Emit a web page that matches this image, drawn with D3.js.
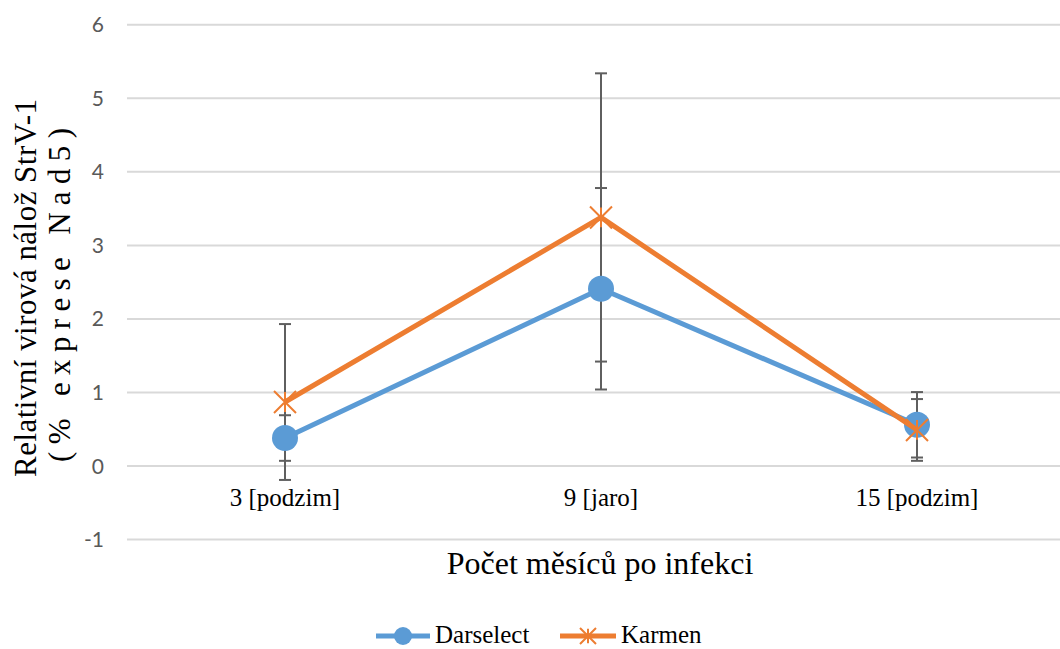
<!DOCTYPE html>
<html>
<head>
  <meta charset="utf-8">
  <title>StrV-1</title>
  <style>
    body { margin: 0; background: #fff; }
    svg { display: block; }
    .serif { font-family: "Liberation Serif", serif; fill: #000; }
    .tick { font-family: Lato, sans-serif; fill: #595959; }
  </style>
  <script src="https://d3js.org/d3.v7.min.js"></script>
</head>
<body>
  <svg id="chart" width="1060" height="649"></svg>
  <script>
    var categories = ["3 [podzim]", "9 [jaro]", "15 [podzim]"];
    var darselect = [0.38, 2.41, 0.56];
    var darselectErr = [0.31, 1.37, 0.445];
    var karmen = [0.87, 3.38, 0.49];
    var karmenErr = [1.06, 1.96, 0.42];
    var yTicks = [-1, 0, 1, 2, 3, 4, 5, 6];

    var width = 1060, height = 649;
    var svg = d3.select("#chart");

    var x = d3.scaleBand()
        .domain(categories)
        .range([127, 1075]);

    var y = d3.scaleLinear()
        .domain([-1, 6])
        .range([539.5, 24.8]);

    var cx = d => x(d) + x.bandwidth() / 2;

    // gridlines
    svg.append("g")
        .selectAll("line")
        .data(yTicks)
        .join("line")
        .attr("x1", 127)
        .attr("x2", width)
        .attr("y1", d => y(d))
        .attr("y2", d => y(d))
        .attr("stroke", "#d9d9d9")
        .attr("stroke-width", 2);

    // tick labels
    svg.append("g")
        .selectAll("text")
        .data(yTicks)
        .join("text")
        .attr("class", "tick")
        .attr("x", 104)
        .attr("y", d => y(d))
        .attr("dy", "0.36em")
        .attr("text-anchor", "end")
        .attr("font-size", 21)
        .text(d => d);

    // category labels
    svg.append("g")
        .selectAll("text")
        .data(categories)
        .join("text")
        .attr("class", "serif")
        .attr("x", d => cx(d))
        .attr("y", 506)
        .attr("text-anchor", "middle")
        .attr("font-size", 25)
        .text(d => d);

    // axis titles
    svg.append("text")
        .attr("class", "serif")
        .attr("x", 600)
        .attr("y", 574)
        .attr("text-anchor", "middle")
        .attr("font-size", 32)
        .text("Počet měsíců po infekci");

    var yTitle = svg.append("text")
        .attr("class", "serif")
        .attr("transform", "rotate(-90)")
        .attr("font-size", 31);
    yTitle.append("tspan")
        .attr("x", -477).attr("y", 36)
        .attr("textLength", 378).attr("lengthAdjust", "spacing")
        .text("Relativní virová nálož StrV-1");
    yTitle.append("tspan")
        .attr("x", -462).attr("y", 70)
        .attr("textLength", 334).attr("lengthAdjust", "spacing")
        .text("(% exprese Nad5)");

    // error bars
    function errorBars(values, errs) {
      var g = svg.append("g")
          .attr("stroke", "#5f5f5f")
          .attr("stroke-width", 2);
      categories.forEach(function(c, i) {
        var px = cx(c);
        var lo = y(values[i] - errs[i]), hi = y(values[i] + errs[i]);
        g.append("line").attr("x1", px).attr("x2", px).attr("y1", lo).attr("y2", hi);
        g.append("line").attr("x1", px - 6).attr("x2", px + 6).attr("y1", lo).attr("y2", lo);
        g.append("line").attr("x1", px - 6).attr("x2", px + 6).attr("y1", hi).attr("y2", hi);
      });
    }
    errorBars(darselect, darselectErr);
    errorBars(karmen, karmenErr);

    var line = d3.line()
        .x((d, i) => cx(categories[i]))
        .y(d => y(d));

    function starMarker(g, px, py, s) {
      g.append("path")
          .attr("d", "M" + (px - s) + "," + (py - s) + "L" + (px + s) + "," + (py + s) +
                     "M" + (px - s) + "," + (py + s) + "L" + (px + s) + "," + (py - s) +
                     "M" + px + "," + (py - s * 0.9) + "L" + px + "," + (py + s * 0.9))
          .attr("stroke", "#ed7d31")
          .attr("stroke-width", 2)
          .attr("fill", "none");
    }

    // Darselect
    svg.append("path")
        .datum(darselect)
        .attr("d", line)
        .attr("fill", "none")
        .attr("stroke", "#5b9bd5")
        .attr("stroke-width", 5)
        .attr("stroke-linejoin", "round");
    svg.append("g")
        .selectAll("circle")
        .data(darselect)
        .join("circle")
        .attr("cx", (d, i) => cx(categories[i]))
        .attr("cy", d => y(d))
        .attr("r", 13)
        .attr("fill", "#5b9bd5");

    // Karmen
    svg.append("path")
        .datum(karmen)
        .attr("d", line)
        .attr("fill", "none")
        .attr("stroke", "#ed7d31")
        .attr("stroke-width", 5)
        .attr("stroke-linejoin", "round");
    var km = svg.append("g");
    karmen.forEach(function(d, i) {
      starMarker(km, cx(categories[i]), y(d), 11);
    });

    // legend
    var legend = svg.append("g");
    legend.append("line")
        .attr("x1", 376).attr("x2", 430).attr("y1", 636).attr("y2", 636)
        .attr("stroke", "#5b9bd5").attr("stroke-width", 5);
    legend.append("circle")
        .attr("cx", 403).attr("cy", 636).attr("r", 9)
        .attr("fill", "#5b9bd5");
    legend.append("text")
        .attr("class", "serif")
        .attr("x", 435).attr("y", 643)
        .attr("font-size", 25)
        .text("Darselect");
    legend.append("line")
        .attr("x1", 560).attr("x2", 616).attr("y1", 636).attr("y2", 636)
        .attr("stroke", "#ed7d31").attr("stroke-width", 5);
    starMarker(legend, 588, 636, 8);
    legend.append("text")
        .attr("class", "serif")
        .attr("x", 621).attr("y", 643)
        .attr("font-size", 25)
        .text("Karmen");
  </script>
</body>
</html>
